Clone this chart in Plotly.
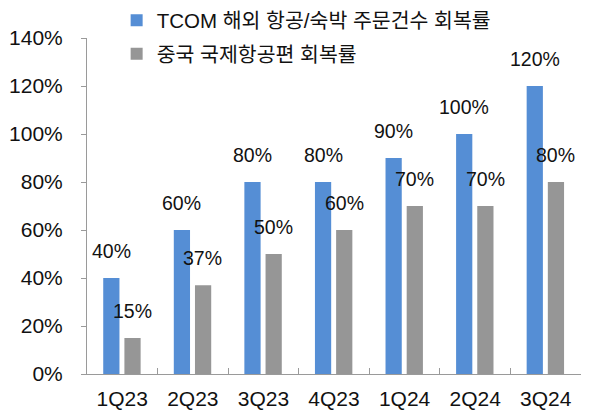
import plotly.graph_objects as go

quarters = ["1Q23", "2Q23", "3Q23", "4Q23", "1Q24", "2Q24", "3Q24"]
tcom_recovery = [40, 60, 80, 80, 90, 100, 120]
china_intl_recovery = [15, 37, 50, 60, 70, 70, 80]
series_names = ["TCOM 해외 항공/숙박 주문건수 회복률", "중국 국제항공편 회복률"]
y_ticks = [0, 20, 40, 60, 80, 100, 120, 140]

BLUE = "#558ED5"
GRAY = "#969696"
FONT = "Liberation Sans, Noto Sans CJK KR, sans-serif"

fig = go.Figure()
fig.add_trace(go.Bar(x=quarters, y=tcom_recovery, name=series_names[0],
                     legendgroup="a",
                     marker=dict(color=BLUE, line=dict(width=0)),
                     width=0.23, offset=-0.27))
fig.add_trace(go.Bar(x=quarters, y=china_intl_recovery, name=series_names[1],
                     legendgroup="b",
                     marker=dict(color=GRAY, line=dict(width=0)),
                     width=0.23, offset=0.03))

# value labels floating above each bar
for q, v in zip(quarters, tcom_recovery):
    fig.add_annotation(x=q, y=v, text=f"{v}%", showarrow=False,
                       xshift=-11, yshift=27, font=dict(size=19.5, color="#111"))
for q, v in zip(quarters, china_intl_recovery):
    fig.add_annotation(x=q, y=v, text=f"{v}%", showarrow=False,
                       xshift=10, yshift=27, font=dict(size=19.5, color="#111"))

fig.update_layout(
    width=592, height=410,
    margin=dict(l=87, r=11, t=38, b=36, autoexpand=False),
    plot_bgcolor="white", paper_bgcolor="white",
    font=dict(family=FONT, size=20, color="#111"),
    showlegend=True,
    legend=dict(x=0.06, y=1.112, xanchor="left", yanchor="top",
                bgcolor="rgba(0,0,0,0)", font=dict(size=20.5),
                traceorder="grouped", tracegroupgap=4, itemwidth=30),
    barmode="overlay",
    xaxis=dict(type="category", showline=True, linecolor="#9a9a9a", linewidth=1,
               ticks="inside", tickson="boundaries", ticklen=6, tickcolor="#9a9a9a",
               showgrid=False, tickfont=dict(size=21), ticklabelstandoff=6),
    yaxis=dict(range=[0, 140], tickvals=y_ticks,
               ticktext=[f"{t}%" for t in y_ticks],
               showline=True, linecolor="#9a9a9a", linewidth=1,
               ticks="outside", ticklen=5, tickcolor="#9a9a9a",
               showgrid=False, zeroline=False, tickfont=dict(size=21),
               ticklabelstandoff=14),
)

fig.write_html("out.html")
